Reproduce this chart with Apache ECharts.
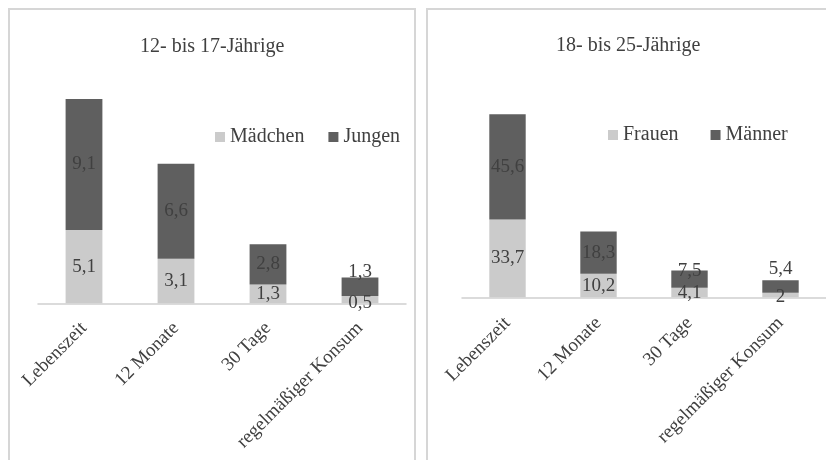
<!DOCTYPE html>
<html>
<head>
<meta charset="utf-8">
<script src="https://cdn.jsdelivr.net/npm/echarts@6/dist/echarts.min.js"></script>
<style>
html,body{margin:0;padding:0;background:#fff;}
#c{width:826px;height:460px;}
</style>
</head>
<body>
<div id="c"></div>
<script>
// ---- data ----
const categories = ['Lebenszeit', '12 Monate', '30 Tage', 'regelmäßiger Konsum'];
const titleYoung = '12- bis 17-Jährige';
const titleAdult = '18- bis 25-Jährige';
const namesYoung = ['Mädchen', 'Jungen'];
const namesAdult = ['Frauen', 'Männer'];
const girls = [5.1, 3.1, 1.3, 0.5];
const boys = [9.1, 6.6, 2.8, 1.3];
const women = [33.7, 10.2, 4.1, 2];
const men = [45.6, 18.3, 7.5, 5.4];
const yMaxYoung = 16;
const yMaxAdult = 100;

// ---- styles ----
const FONT = "'Liberation Serif', 'Times New Roman', serif";
const TXT = '#404040';
const LIGHT = '#cbcbcb';
const DARK = '#5f5f5f';
const BORDER = '#d6d6d6';

const fmt = p => String(p.value).replace('.', ',');

// label shifts for crowded small segments (by series key, category index)
const labelShift = {
  girls: {3: 3},
  boys: {3: -15},
  women: {3: 2},
  men: {2: -8, 3: -17}
};
function items(values, key) {
  return values.map((v, i) => {
    const dy = (labelShift[key] || {})[i];
    return dy ? {value: v, label: {offset: [0, dy]}} : v;
  });
}

function barSeries(name, values, key, color, axisIdx) {
  return {
    type: 'bar', name: name, data: items(values, key),
    xAxisIndex: axisIdx, yAxisIndex: axisIdx, stack: 's' + axisIdx,
    barWidth: '40%',
    itemStyle: {color: color},
    label: {show: true, position: 'inside', formatter: fmt,
      color: TXT, fontFamily: FONT, fontSize: 19},
    emphasis: {disabled: true}, animation: false
  };
}

function xAx(gridIndex, margin) {
  return {
    type: 'category', gridIndex: gridIndex, data: categories,
    axisLine: {lineStyle: {color: '#d0d0d0', width: 1.5}},
    axisTick: {show: false},
    axisLabel: {rotate: 45, margin: margin, color: TXT, fontFamily: FONT, fontSize: 19, interval: 0}
  };
}
function yAx(gridIndex, max) {
  return {type: 'value', gridIndex: gridIndex, min: 0, max: max, show: false};
}

const chart = echarts.init(document.getElementById('c'), null, {renderer: 'canvas'});
chart.setOption({
  animation: false,
  backgroundColor: '#fff',
  title: [
    {text: titleYoung, left: 140, top: 37, padding: 0,
      textStyle: {color: TXT, fontFamily: FONT, fontSize: 20, fontWeight: 'normal'}},
    {text: titleAdult, left: 556, top: 36, padding: 0,
      textStyle: {color: TXT, fontFamily: FONT, fontSize: 20, fontWeight: 'normal'}}
  ],
  legend: [
    {data: namesYoung, left: 215, top: 127, padding: 0, itemGap: 24, itemWidth: 10, itemHeight: 10,
      icon: 'rect', selectedMode: false,
      textStyle: {color: TXT, fontFamily: FONT, fontSize: 20}},
    {data: namesAdult, left: 608, top: 125, padding: 0, itemGap: 32, itemWidth: 10, itemHeight: 10,
      icon: 'rect', selectedMode: false,
      textStyle: {color: TXT, fontFamily: FONT, fontSize: 20}}
  ],
  grid: [
    {left: 38, top: 73, width: 368, height: 230.3},
    {left: 462, top: 66.5, width: 371, height: 230.8}
  ],
  xAxis: [xAx(0, 22), xAx(1, 23)],
  yAxis: [yAx(0, yMaxYoung), yAx(1, yMaxAdult)],
  series: [
    barSeries(namesYoung[0], girls, 'girls', LIGHT, 0),
    barSeries(namesYoung[1], boys, 'boys', DARK, 0),
    barSeries(namesAdult[0], women, 'women', LIGHT, 1),
    barSeries(namesAdult[1], men, 'men', DARK, 1)
  ],
  graphic: [
    {type: 'rect', shape: {x: 9, y: 9, width: 406, height: 500}, silent: true,
      style: {fill: 'none', stroke: BORDER, lineWidth: 2}},
    {type: 'rect', shape: {x: 427, y: 9, width: 500, height: 500}, silent: true,
      style: {fill: 'none', stroke: BORDER, lineWidth: 2}}
  ]
});
</script>
</body>
</html>
